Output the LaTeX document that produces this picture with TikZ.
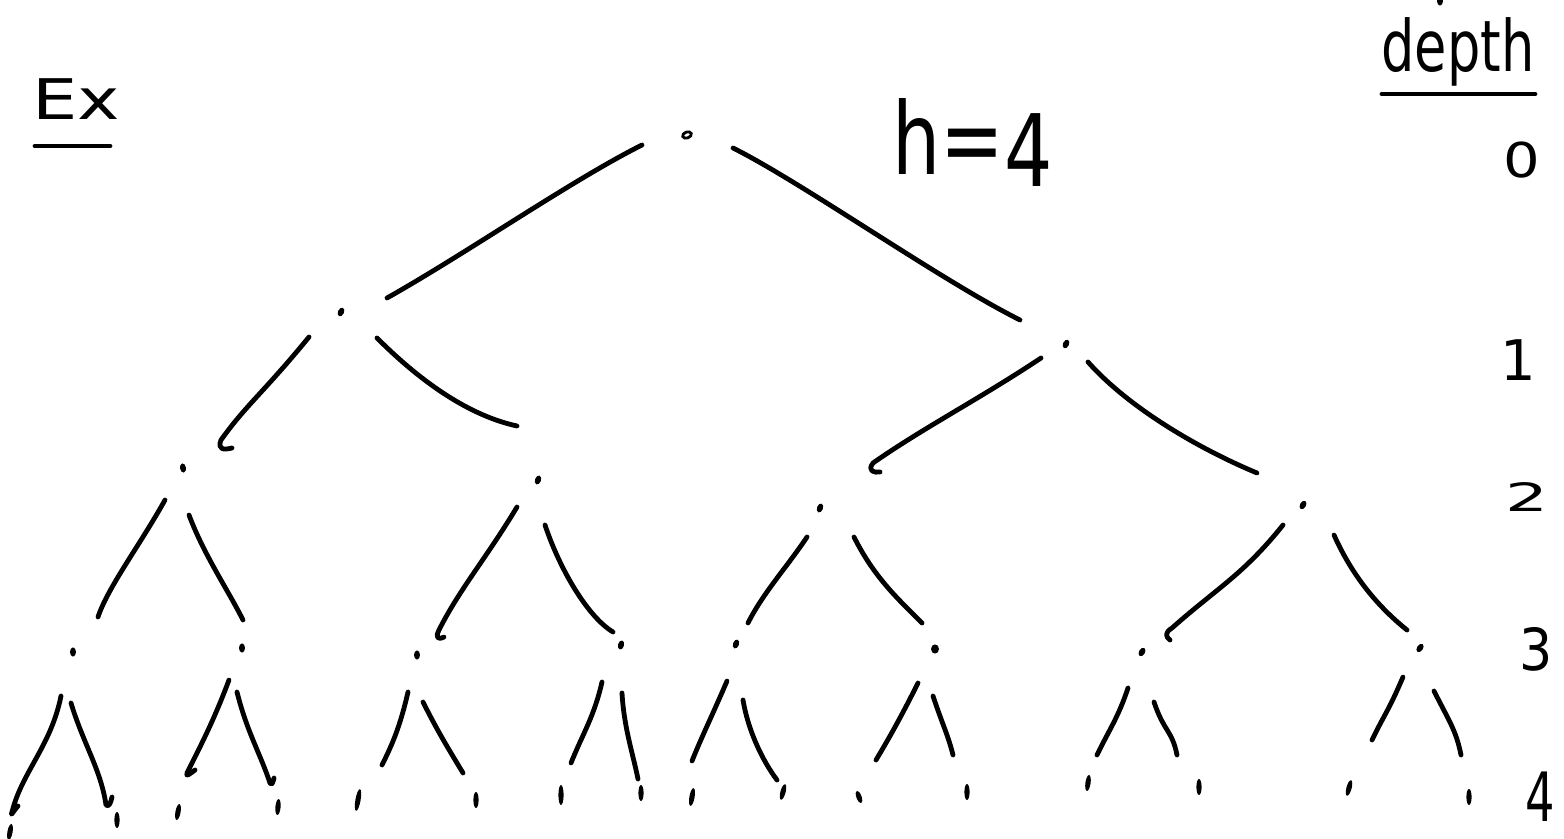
\documentclass[tikz,border=0pt]{standalone}
\usepackage{fontspec}
\newfontfamily\hand{DejaVu Sans}
\usetikzlibrary{shapes.geometric}
\begin{document}
\begin{tikzpicture}[x=0.5pt,y=-0.5pt,
  twig/.style={line width=2.4pt,line cap=round,line join=round},
  knot/.style={ellipse,fill=black,inner sep=0pt,minimum width=3pt,minimum height=4.6pt},
  leaf/.style={ellipse,fill=black,inner sep=0pt,minimum width=2.6pt,minimum height=8pt},
  lbl/.style={inner sep=0pt,font=\hand}]
\useasboundingbox (0,0) rectangle (1564,839);

% ---- headings ----
\node[lbl,anchor=base west,font=\hand\fontsize{28pt}{30pt}\selectfont] (ex) at (32,120) {\scalebox{1.28}[1]{Ex}};
\draw[twig] (35,146) -- (110,146);
\node[lbl,anchor=base west,font=\hand\fontsize{50pt}{52pt}\selectfont] (hh) at (892,175) {\scalebox{0.76}[1]{h=\raisebox{-6pt}{4}}};
\node[lbl,anchor=base west,font=\hand\fontsize{35.5pt}{38pt}\selectfont] (dp) at (1381,72) {\scalebox{0.74}[1]{depth}};
\draw[twig] (1382,94) -- (1535,94);
\node[knot] (tick) at (1440,1) {};

% ---- depth scale ----
\node[lbl,font=\hand\fontsize{24pt}{26pt}\selectfont] (d0) at (1522,160) {\scalebox{1.2}[1]{0}};
\node[lbl,font=\hand\fontsize{28pt}{30pt}\selectfont] (d1) at (1518,360) {1};
\node[lbl,font=\hand\fontsize{26pt}{28pt}\selectfont] (d2) at (1527,497) {\scalebox{1.3}[0.75]{2}};
\node[lbl,font=\hand\fontsize{29pt}{31pt}\selectfont] (d3) at (1536,649) {\scalebox{0.9}[1]{3}};
\node[lbl,font=\hand\fontsize{34pt}{36pt}\selectfont] (d4) at (1540,797) {\scalebox{0.68}[1]{4}};

% ---- tree nodes ----
\node[draw,ellipse,line width=1.4pt,inner sep=0pt,minimum width=4.5pt,minimum height=3pt,rotate=20] (r) at (687,135) {};
\node[knot,rotate=-25] (L) at (341,312) {};
\node[knot,rotate=-25] (R) at (1066,344) {};
\node[knot,rotate=10] (a) at (183,468) {};
\node[knot,rotate=-20] (b) at (538,480) {};
\node[knot,rotate=-20] (c) at (820,508) {};
\node[knot,rotate=-30] (d) at (1303,505) {};
\node[knot] (A) at (73,652) {};
\node[knot] (B) at (242,648) {};
\node[knot] (C) at (417,655) {};
\node[knot,rotate=-15] (D) at (621,645) {};
\node[knot,rotate=-20] (E) at (736,644) {};
\node[knot,minimum width=4pt] (F) at (935,649) {};
\node[knot,rotate=-30] (G) at (1142,652) {};
\node[knot,rotate=-35] (H) at (1420,648) {};

% ---- leaves ----
\node[leaf,rotate=-10] (A1) at (10,832) {};
\node[leaf] (A2) at (117,820) {};
\node[leaf,rotate=-10] (B1) at (178,812) {};
\node[leaf,rotate=-5] (B2) at (278,807) {};
\node[leaf,rotate=-10,minimum height=11pt] (C1) at (358,800) {};
\node[leaf] (C2) at (476,800) {};
\node[leaf,minimum height=10pt] (D1) at (561,795) {};
\node[leaf] (D2) at (641,793) {};
\node[leaf,rotate=-10,minimum height=9pt] (E1) at (692,797) {};
\node[leaf,rotate=-15] (E2) at (783,792) {};
\node[leaf,rotate=20,minimum height=6.5pt] (F1) at (859,797) {};
\node[leaf] (F2) at (967,792) {};
\node[leaf,rotate=-8] (G1) at (1088,783) {};
\node[leaf] (G2) at (1199,787) {};
\node[leaf,rotate=-15] (H1) at (1349,788) {};
\node[leaf] (H2) at (1469,797) {};

% ---- connectors: depth 0 -> 1 ----
\draw[twig] ([shift={(-45,10)}]r.center) .. controls +(-70,35) and +(80,-45) .. ([shift={(46,-14)}]L.center);
\draw[twig] ([shift={(46,13)}]r.center) .. controls +(70,35) and +(-80,-40) .. ([shift={(-46,-24)}]R.center);

% ---- depth 1 -> 2 ----
\draw[twig] ([shift={(-32,25)}]L.center) .. controls +(-45,55) and +(25,-35) .. ([shift={(38,-28)}]a.center)
   .. controls +(-4,10) and +(-8,2) .. ([shift={(49,-20)}]a.center);
\draw[twig] ([shift={(36,26)}]L.center) .. controls +(35,35) and +(-55,-12) .. ([shift={(-21,-54)}]b.center);
\draw[twig] ([shift={(-25,14)}]R.center) .. controls +(-60,40) and +(50,-35) .. ([shift={(53,-45)}]c.center)
   .. controls +(-6,8) and +(-6,1) .. ([shift={(60,-36)}]c.center);
\draw[twig] ([shift={(22,18)}]R.center) .. controls +(40,45) and +(-60,-25) .. ([shift={(-46,-32)}]d.center);

% ---- depth 2 -> 3 ----
\draw[twig] ([shift={(-18,32)}]a.center) .. controls +(-25,45) and +(10,-30) .. ([shift={(25,-35)}]A.center);
\draw[twig] ([shift={(6,47)}]a.center) .. controls +(15,40) and +(-15,-30) .. ([shift={(1,-28)}]B.center);
\draw[twig] ([shift={(-21,27)}]b.center) .. controls +(-30,50) and +(20,-40) .. ([shift={(22,-25)}]C.center)
   .. controls +(-4,8) and +(-6,3) .. ([shift={(27,-18)}]C.center);
\draw[twig] ([shift={(7,45)}]b.center) .. controls +(15,45) and +(-25,-15) .. ([shift={(-8,-13)}]D.center);
\draw[twig] ([shift={(-13,29)}]c.center) .. controls +(-20,30) and +(15,-30) .. ([shift={(12,-21)}]E.center);
\draw[twig] ([shift={(34,29)}]c.center) .. controls +(20,40) and +(-25,-25) .. ([shift={(-13,-26)}]F.center);
\draw[twig] ([shift={(-20,20)}]d.center) .. controls +(-40,50) and +(45,-40) .. ([shift={(30,-24)}]G.center)
   .. controls +(-8,5) and +(-4,-3) .. ([shift={(28,-12)}]G.center);
\draw[twig] ([shift={(31,30)}]d.center) .. controls +(20,45) and +(-25,-20) .. ([shift={(-13,-18)}]H.center);

% ---- depth 3 -> 4 ----
\draw[twig] ([shift={(-12,44)}]A.center) .. controls +(-10,50) and +(10,-40) .. ([shift={(2,-20)}]A1.center)
   .. controls +(-2,6) and +(-4,4) .. ([shift={(8,-26)}]A1.center);
\draw[twig] ([shift={(-2,51)}]A.center) .. controls +(12,40) and +(-5,-35) .. ([shift={(-11,-15)}]A2.center)
   .. controls +(3,3) and +(-1,5) .. ([shift={(-5,-23)}]A2.center);
\draw[twig] ([shift={(-13,32)}]B.center) .. controls +(-15,40) and +(15,-30) .. ([shift={(9,-39)}]B1.center)
   .. controls +(-2,5) and +(-4,3) .. ([shift={(17,-42)}]B1.center);
\draw[twig] ([shift={(-5,44)}]B.center) .. controls +(10,40) and +(-10,-30) .. ([shift={(-8,-24)}]B2.center)
   .. controls +(2,3) and +(-1,4) .. ([shift={(-4,-29)}]B2.center);
\draw[twig] ([shift={(-9,37)}]C.center) .. controls +(-8,35) and +(10,-20) .. ([shift={(24,-35)}]C1.center);
\draw[twig] ([shift={(6,47)}]C.center) .. controls +(15,30) and +(-15,-25) .. ([shift={(-13,-27)}]C2.center);
\draw[twig] ([shift={(-19,37)}]D.center) .. controls +(-8,35) and +(12,-30) .. ([shift={(10,-32)}]D1.center);
\draw[twig] ([shift={(1,48)}]D.center) .. controls +(2,35) and +(-5,-25) .. ([shift={(-3,-14)}]D2.center);
\draw[twig] ([shift={(-9,37)}]E.center) .. controls +(-15,35) and +(10,-25) .. ([shift={(0,-36)}]E1.center);
\draw[twig] ([shift={(7,56)}]E.center) .. controls +(5,30) and +(-15,-20) .. ([shift={(-6,-12)}]E2.center);
\draw[twig] ([shift={(-17,34)}]F.center) .. controls +(-15,30) and +(15,-25) .. ([shift={(17,-37)}]F1.center);
\draw[twig] ([shift={(-2,47)}]F.center) .. controls +(10,30) and +(-5,-20) .. ([shift={(-14,-37)}]F2.center);
\draw[twig] ([shift={(-14,36)}]G.center) .. controls +(-10,30) and +(12,-25) .. ([shift={(9,-28)}]G1.center);
\draw[twig] ([shift={(12,50)}]G.center) .. controls +(10,30) and +(-5,-25) .. ([shift={(-22,-32)}]G2.center);
\draw[twig] ([shift={(-17,29)}]H.center) .. controls +(-15,35) and +(12,-25) .. ([shift={(23,-48)}]H1.center);
\draw[twig] ([shift={(14,43)}]H.center) .. controls +(15,30) and +(-5,-25) .. ([shift={(-8,-42)}]H2.center);
\end{tikzpicture}
\end{document}
